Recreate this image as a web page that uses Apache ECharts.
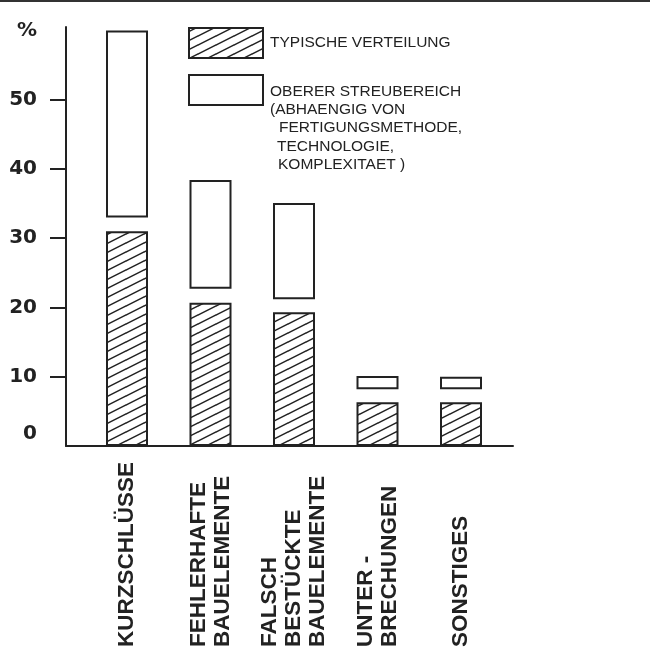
<!DOCTYPE html>
<html>
<head>
<meta charset="utf-8">
<script src="https://cdn.jsdelivr.net/npm/echarts@6/dist/echarts.min.js"></script>
<style>
html,body{margin:0;padding:0;background:#fff;}
#chart{width:668px;height:657px;}
</style>
</head>
<body>
<div id="chart"></div>
<script>
const categories = ['KURZSCHLÜSSE', 'FEHLERHAFTE\nBAUELEMENTE', 'FALSCH\nBESTÜCKTE\nBAUELEMENTE', 'UNTER -\nBRECHUNGEN', 'SONSTIGES'];
const typical   = [31, 20.7, 19.3, 6.3, 6.3];
const rangeLow  = [33, 22.7, 21.2, 8.2, 8.2];
const rangeHigh = [60, 38.4, 35.1, 10.1, 10.0];
const yTickValues  = [10, 20, 30, 40, 50];
const yLabelValues = [0, 10, 20, 30, 40, 50, 60];
const legendTypical = 'TYPISCHE VERTEILUNG';
const legendRange = ['OBERER STREUBEREICH', '(ABHAENGIG VON', 'FERTIGUNGSMETHODE,', 'TECHNOLOGIE,', 'KOMPLEXITAET )'];

function makeHatch() {
  const w = 18, h = 9;
  const c = document.createElement('canvas');
  c.width = w; c.height = h;
  const ctx = c.getContext('2d');
  ctx.fillStyle = '#fff';
  ctx.fillRect(0, 0, w, h);
  ctx.strokeStyle = '#222';
  ctx.lineWidth = 1.5;
  ctx.beginPath();
  [[0,0],[0,-h],[0,h],[-w,0],[w,0]].forEach(function(o){
    ctx.moveTo(o[0], h + o[1]);
    ctx.lineTo(w + o[0], o[1]);
  });
  ctx.stroke();
  return c;
}
const hatch = makeHatch();
const hatchFill = {image: hatch, repeat: 'repeat'};

const gap = rangeLow.map((v, i) => v - typical[i]);
const span = rangeHigh.map((v, i) => v - rangeLow[i]);

const ink = '#222';
const legendFont = '15.5px "Liberation Sans"';
const chart = echarts.init(document.getElementById('chart'), null, {renderer: 'canvas'});
const gTop = 27, gBottom = 211;
const option = {
  backgroundColor: '#fff',
  animation: false,
  grid: [
    {left: 66, right: 155, top: gTop, bottom: gBottom},
    {left: 85.25, right: 165.25, top: gTop, bottom: gBottom}
  ],
  xAxis: [
    {gridIndex: 0, type: 'value', min: 0, max: 1,
     axisLine: {show: true, onZero: false, lineStyle: {color: ink, width: 2}},
     axisTick: {show: false}, axisLabel: {show: false}, splitLine: {show: false}},
    {gridIndex: 1, type: 'category', data: categories,
     axisLine: {show: false}, axisTick: {show: false}, splitLine: {show: false},
     axisLabel: {rotate: 90, align: 'left', verticalAlign: 'middle', margin: 201,
       fontFamily: 'Liberation Sans', fontWeight: 'bold', fontSize: 22.5, lineHeight: 24, color: ink, interval: 0}}
  ],
  yAxis: [
    {gridIndex: 0, type: 'value', min: 0, max: 60.5, interval: 10,
     axisLine: {show: true, lineStyle: {color: ink, width: 2}},
     axisTick: {show: true, length: 16, customValues: yTickValues, lineStyle: {color: ink, width: 2}},
     axisLabel: {customValues: yLabelValues, margin: 29, color: ink,
       fontFamily: 'DejaVu Sans', fontWeight: 'bold', fontSize: 20,
       formatter: function(v){ return v === 0 ? '{z|0}' : (v === 60 ? '%' : String(v)); },
       rich: {z: {padding: [0, 0, 25, 0], fontFamily: 'DejaVu Sans', fontWeight: 'bold', fontSize: 20, color: ink}}},
     splitLine: {show: false}},
    {gridIndex: 1, type: 'value', min: 0, max: 60.5, show: false, splitLine: {show: false}}
  ],
  series: [
    {type: 'bar', xAxisIndex: 1, yAxisIndex: 1, stack: 'a', barWidth: 42, data: typical,
     itemStyle: {color: hatchFill, borderColor: ink, borderWidth: 2}, emphasis: {disabled: true}},
    {type: 'bar', xAxisIndex: 1, yAxisIndex: 1, stack: 'a', barWidth: 42, data: gap, silent: true,
     itemStyle: {color: 'rgba(0,0,0,0)', borderWidth: 0}, emphasis: {disabled: true}},
    {type: 'bar', xAxisIndex: 1, yAxisIndex: 1, stack: 'a', barWidth: 42, data: span,
     itemStyle: {color: '#fff', borderColor: ink, borderWidth: 2}, emphasis: {disabled: true}}
  ],
  graphic: [
    {type: 'rect', shape: {x: 0, y: 0, width: 650, height: 2}, style: {fill: '#333'}},
    {type: 'rect', shape: {x: 189, y: 28, width: 74, height: 30}, style: {fill: hatchFill, stroke: ink, lineWidth: 2}},
    {type: 'rect', shape: {x: 189, y: 75, width: 74, height: 30}, style: {fill: '#fff', stroke: ink, lineWidth: 2}},
    {type: 'text', x: 270, y: 43, style: {text: legendTypical, fill: ink, font: legendFont, verticalAlign: 'middle'}},
    {type: 'text', x: 270, y: 92, style: {text: legendRange[0], fill: ink, font: legendFont, verticalAlign: 'middle'}},
    {type: 'text', x: 270, y: 110, style: {text: legendRange[1], fill: ink, font: legendFont, verticalAlign: 'middle'}},
    {type: 'text', x: 279, y: 128, style: {text: legendRange[2], fill: ink, font: legendFont, verticalAlign: 'middle'}},
    {type: 'text', x: 277, y: 147, style: {text: legendRange[3], fill: ink, font: legendFont, verticalAlign: 'middle'}},
    {type: 'text', x: 278, y: 165, style: {text: legendRange[4], fill: ink, font: legendFont, verticalAlign: 'middle'}}
  ]
};
chart.setOption(option);
</script>
</body>
</html>
